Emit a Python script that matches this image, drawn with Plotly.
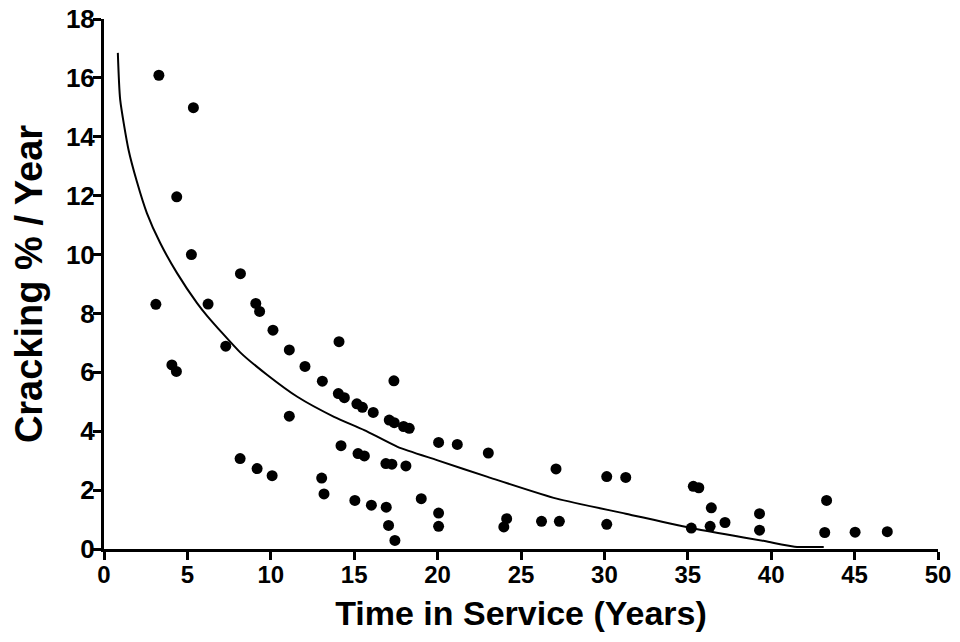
import plotly.graph_objects as go

# Observed data points (Time in service, Cracking %/year)
years = [3.29, 5.36, 4.36, 5.24, 8.18, 3.11, 6.24, 9.10, 9.33, 10.13,
         7.30, 4.07, 4.34, 11.11, 14.09, 12.05, 13.09, 17.38, 14.05, 14.41,
         15.16, 15.49, 16.14, 17.10, 17.40, 17.96, 18.30, 20.06, 11.11, 14.21,
         15.23, 15.61, 16.90, 17.26, 18.10, 8.16, 9.18, 10.08, 13.05, 13.19,
         15.04, 16.03, 16.92, 19.02, 20.06, 20.06, 17.06, 17.44, 21.18, 23.04,
         24.14, 23.97, 26.23, 27.30, 27.10, 30.14, 31.28, 30.14, 35.33, 35.66,
         36.41, 35.21, 36.34, 37.23, 39.30, 39.30, 43.32, 43.21, 45.03, 46.96]
cracking = [16.09, 14.99, 11.96, 10.00, 9.35, 8.31, 8.32, 8.34, 8.07, 7.43,
            6.89, 6.25, 6.03, 6.76, 7.04, 6.20, 5.70, 5.71, 5.28, 5.14,
            4.93, 4.81, 4.64, 4.38, 4.29, 4.16, 4.10, 3.62, 4.51, 3.51,
            3.24, 3.16, 2.90, 2.88, 2.82, 3.07, 2.73, 2.49, 2.41, 1.87,
            1.65, 1.49, 1.42, 1.71, 1.22, 0.77, 0.80, 0.29, 3.55, 3.26,
            1.03, 0.75, 0.94, 0.94, 2.72, 2.46, 2.43, 0.84, 2.13, 2.08,
            1.40, 0.71, 0.77, 0.90, 1.20, 0.64, 1.65, 0.56, 0.57, 0.59]

# Trend curve
curve_x = [0.83, 0.97, 1.47, 1.97, 2.57, 3.37, 4.38, 5.58, 6.18, 8.18,
           9.79, 11.59, 13.79, 15.6, 17.6, 19.96, 23.0, 27.14, 31.28, 35.41,
           39.6, 41.4, 43.15]
curve_y = [16.85, 15.26, 13.56, 12.48, 11.41, 10.39, 9.37, 8.35, 7.92, 6.67,
           5.91, 5.17, 4.49, 4.04, 3.47, 3.02, 2.45, 1.71, 1.20, 0.69,
           0.27, 0.08, 0.07]

x_ticks = [0, 5, 10, 15, 20, 25, 30, 35, 40, 45, 50]
y_ticks = [0, 2, 4, 6, 8, 10, 12, 14, 16, 18]

FONT = "Liberation Sans, Arial, sans-serif"

fig = go.Figure()
fig.add_trace(go.Scatter(x=curve_x, y=curve_y, mode="lines",
                         line=dict(color="black", width=2, shape="spline", smoothing=0.6),
                         hoverinfo="skip", showlegend=False, cliponaxis=False))
fig.add_trace(go.Scatter(x=years, y=cracking, mode="markers",
                         marker=dict(color="black", size=11, line=dict(width=0)),
                         showlegend=False, cliponaxis=False))

# page body adds an 8px offset; size the figure to fill the remaining window
fig.update_layout(
    width=952, height=634,
    margin=dict(l=96, r=22, t=11, b=93, autoexpand=False),
    plot_bgcolor="white", paper_bgcolor="white",
    font=dict(family=FONT, color="black"),
    xaxis=dict(range=[0, 50], tickvals=x_ticks, ticktext=[str(v) for v in x_ticks],
               automargin=False, ticklabeloverflow="allow",
               showgrid=False, zeroline=False, showline=True, linecolor="black", linewidth=3,
               ticks="outside", ticklen=8, tickwidth=3, tickcolor="black",
               ticklabelstandoff=-6,
               tickfont=dict(family=FONT, size=24, weight="bold"),
               title=dict(text="Time in Service (Years)", standoff=15,
                          font=dict(family=FONT, size=34, weight="bold"))),
    yaxis=dict(range=[0, 18], tickvals=y_ticks, ticktext=[str(v) for v in y_ticks],
               automargin=False, ticklabeloverflow="allow",
               showgrid=False, zeroline=False, showline=True, linecolor="black", linewidth=3,
               ticks="outside", ticklen=8, tickwidth=3, tickcolor="black",
               ticklabelstandoff=-7,
               tickfont=dict(family=FONT, size=26, weight="bold"),
               title=dict(text="Cracking % / Year", standoff=16,
                          font=dict(family=FONT, size=38, weight="bold"))),
)

fig.write_html("out.html")
